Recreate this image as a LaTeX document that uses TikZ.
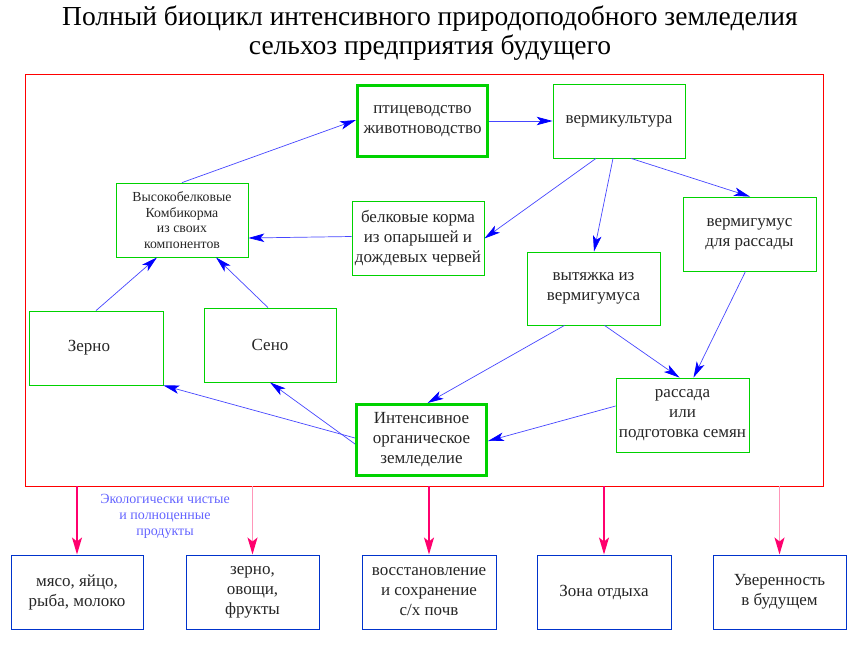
\documentclass[tikz,border=0pt]{standalone}
\usepackage{fontspec}
\setmainfont{Liberation Serif}
\usetikzlibrary{arrows.meta,positioning}
\definecolor{boxgreen}{RGB}{0,210,0}
\definecolor{flowblue}{RGB}{70,70,255}
\definecolor{resblue}{RGB}{0,51,204}
\definecolor{outpink}{RGB}{255,0,110}
\definecolor{palepink}{RGB}{255,150,185}
\definecolor{notetext}{RGB}{100,100,255}
\begin{document}
\begin{tikzpicture}[x=1pt,y=-1pt,
 box/.style={rectangle,draw=boxgreen,line width=0.8pt,minimum width=132pt,minimum height=74pt,
   align=center,inner sep=2pt,font=\fontsize{17}{20}\selectfont,text=black!85},
 keybox/.style={box,line width=3pt,minimum width=130pt,minimum height=71pt},
 resbox/.style={box,draw=resblue,line width=1pt},
 flow/.style={-{Stealth[length=16pt,width=8.5pt,inset=4pt,blue]},draw=flowblue,line width=0.7pt},
 yield/.style={-{Stealth[length=17pt,width=10pt,inset=4pt,outpink]},line width=1.5pt}]
 \useasboundingbox (0,0) rectangle (858,646);
 % title
 \node[align=center,font=\fontsize{27.5}{29}\selectfont] (title) at (430,33)
  {Полный биоцикл интенсивного природоподобного земледелия\\сельхоз предприятия будущего};
 % frame of the farm
 \node[draw=red,line width=0.8pt,minimum width=798pt,minimum height=412pt,inner sep=0pt] (farm) at (424,280) {};
 % cycle
 \node[keybox] (ptic) at (422.5,121) {птицеводство\\животноводство};
 \node[box] (verm) at (619,121) {вермикультура};
 \node[box,font=\fontsize{13.8}{15.7}\selectfont] (kombi) at (182,220) {Высокобелковые\\Комбикорма\\из своих\\компонентов};
 \node[box] (belk) at (418,238.5) {белковые корма\\из опарышей и\\дождевых червей};
 \node[box,minimum width=133pt] (vgum) at (749.5,234) {вермигумус\\для рассады};
 \node[box,minimum width=133pt,minimum height=73pt] (vyt) at (593.5,288.5) {вытяжка из\\вермигумуса};
 \node[box,minimum width=134pt] (zerno) at (96,348) {Зерно\hspace{14pt}};
 \node[box] (seno) at (270,345) {Сено};
 \node[keybox] (intens) at (421.5,440) {Интенсивное\\органическое\\земледелие};
 \node[box,minimum width=133pt] (rass) at (682.5,415) {рассада\\или\\подготовка семян};
 \draw[flow] (kombi.north) -- ([yshift=1pt]ptic.west);
 \draw[flow] (ptic.east) -- (verm.west);
 \draw[flow] ([xshift=-23pt]verm.south) -- (belk.east);
 \draw[flow] ([xshift=-6pt]verm.south) -- ([xshift=0.5pt]vyt.north);
 \draw[flow] ([xshift=12pt]verm.south) -- ([xshift=0.5pt]vgum.north);
 \draw[flow] ([yshift=2pt]belk.west) -- ([yshift=-18pt]kombi.east);
 \draw[flow] (zerno.north) -- ([xshift=-25pt]kombi.south);
 \draw[flow] ([xshift=-2pt]seno.north) -- ([xshift=34pt]kombi.south);
 \draw[flow] ([xshift=-29pt]vyt.south) -- ([xshift=6pt]intens.north);
 \draw[flow] ([xshift=11pt]vyt.south) -- ([xshift=-3pt]rass.north);
 \draw[flow] ([xshift=-4pt]vgum.south) -- ([xshift=11pt]rass.north);
 \draw[flow] ([yshift=9pt]rass.west) -- ([yshift=-1pt]intens.east);
 \draw[flow] ([yshift=2pt]intens.west) -- (zerno.south east);
 \draw[flow] ([yshift=-4pt]intens.west) -- (seno.south);
 % results
 \node[resbox] (meat) at (77,592) {мясо, яйцо,\\рыба, молоко};
 \node[resbox,minimum width=133pt] (crop) at (252.5,592) {зерно,\\овощи,\\фрукты};
 \node[resbox,minimum width=134pt] (soil) at (429,592) {восстановление\\и сохранение\\с/х почв};
 \node[resbox,minimum width=134pt] (rest) at (604,592) {Зона отдыха};
 \node[resbox,minimum width=133pt] (sure) at (779.5,592) {Уверенность\\в будущем};
 \foreach \R/\C in {meat/outpink,crop/palepink,soil/outpink,rest/outpink,sure/palepink}
  \draw[yield,draw=\C] (farm.south -| \R.north) -- (\R.north);
 \node[align=center,text=notetext,font=\fontsize{14}{16}\selectfont] (note) at (165,516)
  {Экологически чистые\\и полноценные\\продукты};
\end{tikzpicture}
\end{document}
